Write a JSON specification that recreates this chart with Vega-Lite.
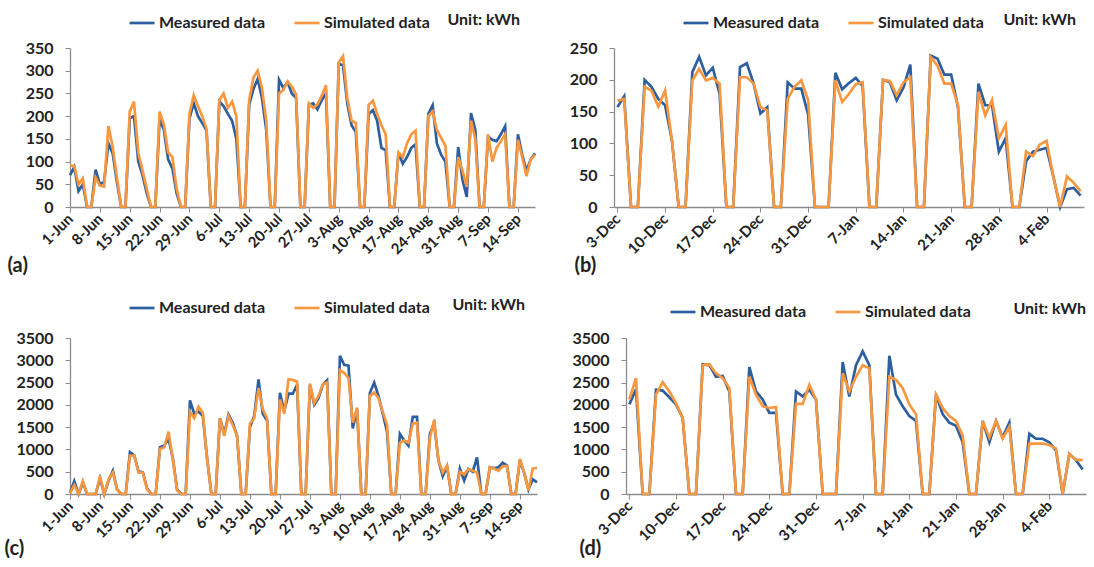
{
  "$schema": "https://vega.github.io/schema/vega-lite/v6.json",
  "background": "white",
  "padding": {"left": 4, "top": 9, "right": 0, "bottom": 0},
  "spacing": 19,
  "resolve": {"scale": {"color": "independent"}, "legend": {"color": "independent"}},
  "config": {
    "font": "Lato",
    "view": {"stroke": null},
    "axis": {"labelFont": "Lato", "labelFontWeight": "bold", "labelColor": "#222", "labelFontSize": 16, "domainColor": "#8c8c8c", "domainWidth": 1.3, "tickColor": "#8c8c8c", "tickSize": 5, "grid": false, "titleFont": "Lato", "titleFontSize": 20, "titleFontWeight": "bold", "titleColor": "#222"},
    "axisY": {"labelPadding": 12, "format": "d"},
    "axisX": {"labelAngle": -45, "labelAlign": "right", "labelBaseline": "middle", "labelFontSize": 15, "labelPadding": 4, "labelOverlap": false, "titleAlign": "left", "titleBaseline": "middle"},
    "legend": {"orient": "none", "direction": "horizontal", "symbolType": "stroke", "symbolStrokeWidth": 3, "symbolSize": 625, "labelFont": "Lato", "labelFontSize": 16, "labelFontWeight": "bold", "labelColor": "#222", "columnPadding": 24, "labelOffset": 3, "padding": 0},
    "title": {"font": "Lato", "fontSize": 16, "fontWeight": "bold", "color": "#222", "anchor": "end", "frame": "group", "orient": "top"},
    "line": {"strokeWidth": 2.7}
  },
  "vconcat": [
    {
      "spacing": 28,
      "resolve": {"scale": {"color": "independent"}, "legend": {"color": "independent"}},
      "hconcat": [
        {
          "width": 465, "height": 159,
          "title": {"text": "Unit: kWh", "dx": -15, "offset": -19},
          "data": {"values": [
            {"date":"2015-06-01","m":70,"s":92},{"date":"2015-06-02","m":88,"s":90},{"date":"2015-06-03","m":35,"s":50},{"date":"2015-06-04","m":50,"s":63},{"date":"2015-06-05","m":0,"s":0},{"date":"2015-06-06","m":0,"s":0},{"date":"2015-06-07","m":82,"s":65},
            {"date":"2015-06-08","m":50,"s":47},{"date":"2015-06-09","m":55,"s":45},{"date":"2015-06-10","m":140,"s":178},{"date":"2015-06-11","m":118,"s":132},{"date":"2015-06-12","m":55,"s":65},{"date":"2015-06-13","m":0,"s":0},{"date":"2015-06-14","m":0,"s":0},
            {"date":"2015-06-15","m":195,"s":210},{"date":"2015-06-16","m":200,"s":232},{"date":"2015-06-17","m":100,"s":120},{"date":"2015-06-18","m":70,"s":80},{"date":"2015-06-19","m":30,"s":40},{"date":"2015-06-20","m":0,"s":0},{"date":"2015-06-21","m":0,"s":0},
            {"date":"2015-06-22","m":193,"s":210},{"date":"2015-06-23","m":170,"s":182},{"date":"2015-06-24","m":105,"s":120},{"date":"2015-06-25","m":85,"s":110},{"date":"2015-06-26","m":30,"s":40},{"date":"2015-06-27","m":0,"s":0},{"date":"2015-06-28","m":0,"s":0},
            {"date":"2015-06-29","m":195,"s":205},{"date":"2015-06-30","m":228,"s":246},{"date":"2015-07-01","m":200,"s":222},{"date":"2015-07-02","m":185,"s":200},{"date":"2015-07-03","m":168,"s":172},{"date":"2015-07-04","m":0,"s":0},{"date":"2015-07-05","m":0,"s":0},
            {"date":"2015-07-06","m":232,"s":235},{"date":"2015-07-07","m":222,"s":250},{"date":"2015-07-08","m":205,"s":218},{"date":"2015-07-09","m":190,"s":232},{"date":"2015-07-10","m":150,"s":200},{"date":"2015-07-11","m":0,"s":0},{"date":"2015-07-12","m":0,"s":0},
            {"date":"2015-07-13","m":225,"s":235},{"date":"2015-07-14","m":260,"s":285},{"date":"2015-07-15","m":282,"s":300},{"date":"2015-07-16","m":240,"s":262},{"date":"2015-07-17","m":170,"s":190},{"date":"2015-07-18","m":0,"s":0},{"date":"2015-07-19","m":0,"s":0},
            {"date":"2015-07-20","m":280,"s":250},{"date":"2015-07-21","m":262,"s":258},{"date":"2015-07-22","m":275,"s":276},{"date":"2015-07-23","m":250,"s":265},{"date":"2015-07-24","m":240,"s":248},{"date":"2015-07-25","m":0,"s":0},{"date":"2015-07-26","m":0,"s":0},
            {"date":"2015-07-27","m":225,"s":228},{"date":"2015-07-28","m":228,"s":218},{"date":"2015-07-29","m":215,"s":226},{"date":"2015-07-30","m":235,"s":245},{"date":"2015-07-31","m":250,"s":268},{"date":"2015-08-01","m":0,"s":0},{"date":"2015-08-02","m":0,"s":0},
            {"date":"2015-08-03","m":315,"s":318},{"date":"2015-08-04","m":312,"s":332},{"date":"2015-08-05","m":228,"s":240},{"date":"2015-08-06","m":180,"s":190},{"date":"2015-08-07","m":165,"s":185},{"date":"2015-08-08","m":0,"s":0},{"date":"2015-08-09","m":0,"s":0},
            {"date":"2015-08-10","m":205,"s":225},{"date":"2015-08-11","m":213,"s":234},{"date":"2015-08-12","m":190,"s":205},{"date":"2015-08-13","m":130,"s":180},{"date":"2015-08-14","m":125,"s":160},{"date":"2015-08-15","m":0,"s":0},{"date":"2015-08-16","m":0,"s":0},
            {"date":"2015-08-17","m":120,"s":120},{"date":"2015-08-18","m":95,"s":110},{"date":"2015-08-19","m":110,"s":140},{"date":"2015-08-20","m":130,"s":160},{"date":"2015-08-21","m":138,"s":168},{"date":"2015-08-22","m":0,"s":0},{"date":"2015-08-23","m":0,"s":0},
            {"date":"2015-08-24","m":205,"s":200},{"date":"2015-08-25","m":224,"s":210},{"date":"2015-08-26","m":140,"s":170},{"date":"2015-08-27","m":115,"s":152},{"date":"2015-08-28","m":100,"s":135},{"date":"2015-08-29","m":0,"s":0},{"date":"2015-08-30","m":0,"s":0},
            {"date":"2015-08-31","m":132,"s":110},{"date":"2015-09-01","m":60,"s":80},{"date":"2015-09-02","m":22,"s":45},{"date":"2015-09-03","m":207,"s":190},{"date":"2015-09-04","m":170,"s":150},{"date":"2015-09-05","m":0,"s":0},{"date":"2015-09-06","m":0,"s":0},
            {"date":"2015-09-07","m":155,"s":160},{"date":"2015-09-08","m":148,"s":100},{"date":"2015-09-09","m":145,"s":130},{"date":"2015-09-10","m":160,"s":145},{"date":"2015-09-11","m":178,"s":160},{"date":"2015-09-12","m":0,"s":0},{"date":"2015-09-13","m":0,"s":0},
            {"date":"2015-09-14","m":160,"s":148},{"date":"2015-09-15","m":115,"s":110},{"date":"2015-09-16","m":80,"s":68},{"date":"2015-09-17","m":105,"s":105},{"date":"2015-09-18","m":118,"s":115}
          ]},
          "transform": [{"fold": ["m", "s"], "as": ["series", "kWh"]}],
          "mark": {"type": "line"},
          "encoding": {
            "x": {"field": "date", "type": "temporal",
              "scale": {"type": "utc", "domain": [{"year": 2015, "month": 6, "date": 1, "utc": true}, {"year": 2015, "month": 9, "date": 18, "utc": true}]},
              "axis": {"values": [{"year":2015,"month":6,"date":1,"utc":true},{"year":2015,"month":6,"date":8,"utc":true},{"year":2015,"month":6,"date":15,"utc":true},{"year":2015,"month":6,"date":22,"utc":true},{"year":2015,"month":6,"date":29,"utc":true},{"year":2015,"month":7,"date":6,"utc":true},{"year":2015,"month":7,"date":13,"utc":true},{"year":2015,"month":7,"date":20,"utc":true},{"year":2015,"month":7,"date":27,"utc":true},{"year":2015,"month":8,"date":3,"utc":true},{"year":2015,"month":8,"date":10,"utc":true},{"year":2015,"month":8,"date":17,"utc":true},{"year":2015,"month":8,"date":24,"utc":true},{"year":2015,"month":8,"date":31,"utc":true},{"year":2015,"month":9,"date":7,"utc":true},{"year":2015,"month":9,"date":14,"utc":true}],
                "labelExpr": "utcFormat(datum.value, '%-d-%b')", "title": "(a)", "titleX": -63, "titleY": 58}},
            "y": {"field": "kWh", "type": "quantitative", "scale": {"domain": [0, 350], "nice": false}, "axis": {"values": [0, 50, 100, 150, 200, 250, 300, 350], "title": null}},
            "color": {"field": "series", "type": "nominal", "scale": {"domain": ["m", "s"], "range": ["#2d5f9f", "#f7973f"]},
              "legend": {"orient": "none", "legendX": 58, "legendY": -39, "title": null, "labelExpr": "datum.label == 'm' ? 'Measured data' : 'Simulated data'"}}
          }
        },
        {
          "width": 470, "height": 159,
          "title": {"text": "Unit: kWh", "dx": -8, "offset": -19},
          "data": {"values": [
            {"date":"2015-12-03","m":157,"s":167},{"date":"2015-12-04","m":174,"s":170},{"date":"2015-12-05","m":0,"s":0},{"date":"2015-12-06","m":0,"s":0},
            {"date":"2015-12-07","m":200,"s":189},{"date":"2015-12-08","m":189,"s":183},{"date":"2015-12-09","m":170,"s":158},{"date":"2015-12-10","m":160,"s":183},{"date":"2015-12-11","m":105,"s":105},{"date":"2015-12-12","m":0,"s":0},{"date":"2015-12-13","m":0,"s":0},
            {"date":"2015-12-14","m":212,"s":199},{"date":"2015-12-15","m":236,"s":217},{"date":"2015-12-16","m":207,"s":199},{"date":"2015-12-17","m":219,"s":203},{"date":"2015-12-18","m":178,"s":194},{"date":"2015-12-19","m":0,"s":0},{"date":"2015-12-20","m":0,"s":0},
            {"date":"2015-12-21","m":220,"s":204},{"date":"2015-12-22","m":226,"s":204},{"date":"2015-12-23","m":194,"s":194},{"date":"2015-12-24","m":147,"s":157},{"date":"2015-12-25","m":157,"s":152},{"date":"2015-12-26","m":0,"s":0},{"date":"2015-12-27","m":0,"s":0},
            {"date":"2015-12-28","m":196,"s":170},{"date":"2015-12-29","m":186,"s":189},{"date":"2015-12-30","m":186,"s":199},{"date":"2015-12-31","m":145,"s":168},{"date":"2016-01-01","m":0,"s":0},{"date":"2016-01-02","m":0,"s":0},{"date":"2016-01-03","m":0,"s":0},
            {"date":"2016-01-04","m":211,"s":199},{"date":"2016-01-05","m":185,"s":165},{"date":"2016-01-06","m":195,"s":178},{"date":"2016-01-07","m":203,"s":193},{"date":"2016-01-08","m":190,"s":196},{"date":"2016-01-09","m":0,"s":0},{"date":"2016-01-10","m":0,"s":0},
            {"date":"2016-01-11","m":200,"s":200},{"date":"2016-01-12","m":196,"s":198},{"date":"2016-01-13","m":168,"s":176},{"date":"2016-01-14","m":188,"s":196},{"date":"2016-01-15","m":224,"s":204},{"date":"2016-01-16","m":0,"s":0},{"date":"2016-01-17","m":0,"s":0},
            {"date":"2016-01-18","m":238,"s":236},{"date":"2016-01-19","m":233,"s":222},{"date":"2016-01-20","m":208,"s":194},{"date":"2016-01-21","m":208,"s":194},{"date":"2016-01-22","m":157,"s":160},{"date":"2016-01-23","m":0,"s":0},{"date":"2016-01-24","m":0,"s":0},
            {"date":"2016-01-25","m":194,"s":181},{"date":"2016-01-26","m":160,"s":144},{"date":"2016-01-27","m":160,"s":168},{"date":"2016-01-28","m":87,"s":108},{"date":"2016-01-29","m":108,"s":129},{"date":"2016-01-30","m":0,"s":0},{"date":"2016-01-31","m":0,"s":0},
            {"date":"2016-02-01","m":72,"s":87},{"date":"2016-02-02","m":87,"s":80},{"date":"2016-02-03","m":90,"s":98},{"date":"2016-02-04","m":93,"s":104},{"date":"2016-02-05","m":48,"s":48},{"date":"2016-02-06","m":0,"s":0},{"date":"2016-02-07","m":28,"s":48},
            {"date":"2016-02-08","m":30,"s":38},{"date":"2016-02-09","m":18,"s":25}
          ]},
          "transform": [{"fold": ["m", "s"], "as": ["series", "kWh"]}],
          "mark": {"type": "line"},
          "encoding": {
            "x": {"field": "date", "type": "temporal",
              "scale": {"type": "utc", "domain": [{"year": 2015, "month": 12, "date": 2, "hours": 12, "utc": true}, {"year": 2016, "month": 2, "date": 9, "hours": 12, "utc": true}]},
              "axis": {"values": [{"year":2015,"month":12,"date":3,"utc":true},{"year":2015,"month":12,"date":10,"utc":true},{"year":2015,"month":12,"date":17,"utc":true},{"year":2015,"month":12,"date":24,"utc":true},{"year":2015,"month":12,"date":31,"utc":true},{"year":2016,"month":1,"date":7,"utc":true},{"year":2016,"month":1,"date":14,"utc":true},{"year":2016,"month":1,"date":21,"utc":true},{"year":2016,"month":1,"date":28,"utc":true},{"year":2016,"month":2,"date":4,"utc":true}],
                "labelExpr": "utcFormat(datum.value, '%-d-%b')", "title": "(b)", "titleX": -40, "titleY": 58}},
            "y": {"field": "kWh", "type": "quantitative", "scale": {"domain": [0, 250], "nice": false}, "axis": {"values": [0, 50, 100, 150, 200, 250], "title": null}},
            "color": {"field": "series", "type": "nominal", "scale": {"domain": ["m", "s"], "range": ["#2d5f9f", "#f7973f"]},
              "legend": {"orient": "none", "legendX": 68, "legendY": -39, "title": null, "labelExpr": "datum.label == 'm' ? 'Measured data' : 'Simulated data'"}}
          }
        }
      ]
    },
    {
      "spacing": 28,
      "resolve": {"scale": {"color": "independent"}, "legend": {"color": "independent"}},
      "hconcat": [
        {
          "width": 467, "height": 156,
          "title": {"text": "Unit: kWh", "dx": -12, "offset": -19},
          "data": {"values": [
            {"date":"2015-06-01","m":30,"s":20},{"date":"2015-06-02","m":290,"s":200},{"date":"2015-06-03","m":0,"s":0},{"date":"2015-06-04","m":250,"s":290},{"date":"2015-06-05","m":0,"s":0},{"date":"2015-06-06","m":0,"s":0},{"date":"2015-06-07","m":0,"s":0},
            {"date":"2015-06-08","m":350,"s":400},{"date":"2015-06-09","m":0,"s":0},{"date":"2015-06-10","m":300,"s":330},{"date":"2015-06-11","m":520,"s":480},{"date":"2015-06-12","m":100,"s":100},{"date":"2015-06-13","m":0,"s":0},{"date":"2015-06-14","m":0,"s":0},
            {"date":"2015-06-15","m":940,"s":860},{"date":"2015-06-16","m":870,"s":860},{"date":"2015-06-17","m":500,"s":480},{"date":"2015-06-18","m":490,"s":480},{"date":"2015-06-19","m":120,"s":100},{"date":"2015-06-20","m":0,"s":0},{"date":"2015-06-21","m":0,"s":0},
            {"date":"2015-06-22","m":1050,"s":1010},{"date":"2015-06-23","m":1090,"s":1050},{"date":"2015-06-24","m":1240,"s":1400},{"date":"2015-06-25","m":800,"s":780},{"date":"2015-06-26","m":100,"s":80},{"date":"2015-06-27","m":0,"s":0},{"date":"2015-06-28","m":0,"s":0},
            {"date":"2015-06-29","m":2100,"s":1850},{"date":"2015-06-30","m":1800,"s":1700},{"date":"2015-07-01","m":1850,"s":1960},{"date":"2015-07-02","m":1750,"s":1820},{"date":"2015-07-03","m":800,"s":780},{"date":"2015-07-04","m":0,"s":0},{"date":"2015-07-05","m":0,"s":0},
            {"date":"2015-07-06","m":1700,"s":1700},{"date":"2015-07-07","m":1350,"s":1300},{"date":"2015-07-08","m":1780,"s":1750},{"date":"2015-07-09","m":1600,"s":1550},{"date":"2015-07-10","m":1300,"s":1300},{"date":"2015-07-11","m":0,"s":0},{"date":"2015-07-12","m":0,"s":0},
            {"date":"2015-07-13","m":1500,"s":1580},{"date":"2015-07-14","m":1750,"s":1700},{"date":"2015-07-15","m":2570,"s":2380},{"date":"2015-07-16","m":1800,"s":1900},{"date":"2015-07-17","m":1650,"s":1700},{"date":"2015-07-18","m":0,"s":0},{"date":"2015-07-19","m":0,"s":0},
            {"date":"2015-07-20","m":2270,"s":2120},{"date":"2015-07-21","m":1850,"s":1800},{"date":"2015-07-22","m":2250,"s":2570},{"date":"2015-07-23","m":2250,"s":2560},{"date":"2015-07-24","m":2450,"s":2520},{"date":"2015-07-25","m":0,"s":0},{"date":"2015-07-26","m":0,"s":0},
            {"date":"2015-07-27","m":2450,"s":2480},{"date":"2015-07-28","m":2000,"s":2040},{"date":"2015-07-29","m":2150,"s":2200},{"date":"2015-07-30","m":2450,"s":2460},{"date":"2015-07-31","m":2550,"s":2500},{"date":"2015-08-01","m":0,"s":0},{"date":"2015-08-02","m":0,"s":0},
            {"date":"2015-08-03","m":3100,"s":2780},{"date":"2015-08-04","m":2900,"s":2720},{"date":"2015-08-05","m":2880,"s":2600},{"date":"2015-08-06","m":1470,"s":1600},{"date":"2015-08-07","m":1900,"s":1940},{"date":"2015-08-08","m":0,"s":0},{"date":"2015-08-09","m":0,"s":0},
            {"date":"2015-08-10","m":2270,"s":2200},{"date":"2015-08-11","m":2500,"s":2280},{"date":"2015-08-12","m":2200,"s":2150},{"date":"2015-08-13","m":1800,"s":1850},{"date":"2015-08-14","m":1400,"s":1550},{"date":"2015-08-15","m":0,"s":0},{"date":"2015-08-16","m":0,"s":0},
            {"date":"2015-08-17","m":1350,"s":1150},{"date":"2015-08-18","m":1200,"s":1200},{"date":"2015-08-19","m":1080,"s":1150},{"date":"2015-08-20","m":1730,"s":1580},{"date":"2015-08-21","m":1730,"s":1600},{"date":"2015-08-22","m":0,"s":0},{"date":"2015-08-23","m":0,"s":0},
            {"date":"2015-08-24","m":1350,"s":1250},{"date":"2015-08-25","m":1580,"s":1660},{"date":"2015-08-26","m":750,"s":750},{"date":"2015-08-27","m":400,"s":480},{"date":"2015-08-28","m":620,"s":640},{"date":"2015-08-29","m":0,"s":0},{"date":"2015-08-30","m":0,"s":0},
            {"date":"2015-08-31","m":570,"s":500},{"date":"2015-09-01","m":300,"s":440},{"date":"2015-09-02","m":560,"s":560},{"date":"2015-09-03","m":500,"s":520},{"date":"2015-09-04","m":820,"s":480},{"date":"2015-09-05","m":0,"s":0},{"date":"2015-09-06","m":0,"s":0},
            {"date":"2015-09-07","m":600,"s":600},{"date":"2015-09-08","m":580,"s":570},{"date":"2015-09-09","m":600,"s":520},{"date":"2015-09-10","m":700,"s":620},{"date":"2015-09-11","m":640,"s":630},{"date":"2015-09-12","m":0,"s":0},{"date":"2015-09-13","m":0,"s":0},
            {"date":"2015-09-14","m":750,"s":790},{"date":"2015-09-15","m":480,"s":480},{"date":"2015-09-16","m":100,"s":80},{"date":"2015-09-17","m":330,"s":570},{"date":"2015-09-18","m":260,"s":590}
          ]},
          "transform": [{"fold": ["m", "s"], "as": ["series", "kWh"]}],
          "mark": {"type": "line"},
          "encoding": {
            "x": {"field": "date", "type": "temporal",
              "scale": {"type": "utc", "domain": [{"year": 2015, "month": 6, "date": 1, "utc": true}, {"year": 2015, "month": 9, "date": 18, "utc": true}]},
              "axis": {"values": [{"year":2015,"month":6,"date":1,"utc":true},{"year":2015,"month":6,"date":8,"utc":true},{"year":2015,"month":6,"date":15,"utc":true},{"year":2015,"month":6,"date":22,"utc":true},{"year":2015,"month":6,"date":29,"utc":true},{"year":2015,"month":7,"date":6,"utc":true},{"year":2015,"month":7,"date":13,"utc":true},{"year":2015,"month":7,"date":20,"utc":true},{"year":2015,"month":7,"date":27,"utc":true},{"year":2015,"month":8,"date":3,"utc":true},{"year":2015,"month":8,"date":10,"utc":true},{"year":2015,"month":8,"date":17,"utc":true},{"year":2015,"month":8,"date":24,"utc":true},{"year":2015,"month":8,"date":31,"utc":true},{"year":2015,"month":9,"date":7,"utc":true},{"year":2015,"month":9,"date":14,"utc":true}],
                "labelExpr": "utcFormat(datum.value, '%-d-%b')", "title": "(c)", "titleX": -66, "titleY": 54}},
            "y": {"field": "kWh", "type": "quantitative", "scale": {"domain": [0, 3500], "nice": false}, "axis": {"values": [0, 500, 1000, 1500, 2000, 2500, 3000, 3500], "title": null}},
            "color": {"field": "series", "type": "nominal", "scale": {"domain": ["m", "s"], "range": ["#2d5f9f", "#f7973f"]},
              "legend": {"orient": "none", "legendX": 58, "legendY": -44, "title": null, "labelExpr": "datum.label == 'm' ? 'Measured data' : 'Simulated data'"}}
          }
        },
        {
          "width": 460, "height": 156,
          "title": {"text": "Unit: kWh", "dx": 0, "offset": -19},
          "data": {"values": [
            {"date":"2015-12-03","m":2010,"s":2120},{"date":"2015-12-04","m":2350,"s":2600},{"date":"2015-12-05","m":0,"s":0},{"date":"2015-12-06","m":0,"s":0},
            {"date":"2015-12-07","m":2340,"s":2230},{"date":"2015-12-08","m":2320,"s":2510},{"date":"2015-12-09","m":2170,"s":2300},{"date":"2015-12-10","m":2010,"s":2040},{"date":"2015-12-11","m":1710,"s":1710},{"date":"2015-12-12","m":0,"s":0},{"date":"2015-12-13","m":0,"s":0},
            {"date":"2015-12-14","m":2910,"s":2890},{"date":"2015-12-15","m":2890,"s":2910},{"date":"2015-12-16","m":2630,"s":2710},{"date":"2015-12-17","m":2650,"s":2600},{"date":"2015-12-18","m":2300,"s":2380},{"date":"2015-12-19","m":0,"s":0},{"date":"2015-12-20","m":0,"s":0},
            {"date":"2015-12-21","m":2850,"s":2630},{"date":"2015-12-22","m":2300,"s":2230},{"date":"2015-12-23","m":2120,"s":1970},{"date":"2015-12-24","m":1820,"s":1930},{"date":"2015-12-25","m":1820,"s":1950},{"date":"2015-12-26","m":0,"s":0},{"date":"2015-12-27","m":0,"s":0},
            {"date":"2015-12-28","m":2300,"s":2020},{"date":"2015-12-29","m":2190,"s":2020},{"date":"2015-12-30","m":2340,"s":2450},{"date":"2015-12-31","m":2120,"s":2120},{"date":"2016-01-01","m":0,"s":0},{"date":"2016-01-02","m":0,"s":0},{"date":"2016-01-03","m":0,"s":0},
            {"date":"2016-01-04","m":2960,"s":2710},{"date":"2016-01-05","m":2190,"s":2300},{"date":"2016-01-06","m":2890,"s":2630},{"date":"2016-01-07","m":3200,"s":2890},{"date":"2016-01-08","m":2890,"s":2820},{"date":"2016-01-09","m":0,"s":0},{"date":"2016-01-10","m":0,"s":0},
            {"date":"2016-01-11","m":3100,"s":2630},{"date":"2016-01-12","m":2230,"s":2560},{"date":"2016-01-13","m":1970,"s":2380},{"date":"2016-01-14","m":1750,"s":2010},{"date":"2016-01-15","m":1640,"s":1790},{"date":"2016-01-16","m":0,"s":0},{"date":"2016-01-17","m":0,"s":0},
            {"date":"2016-01-18","m":2230,"s":2230},{"date":"2016-01-19","m":1790,"s":1930},{"date":"2016-01-20","m":1600,"s":1750},{"date":"2016-01-21","m":1530,"s":1640},{"date":"2016-01-22","m":1160,"s":1310},{"date":"2016-01-23","m":0,"s":0},{"date":"2016-01-24","m":0,"s":0},
            {"date":"2016-01-25","m":1640,"s":1640},{"date":"2016-01-26","m":1160,"s":1270},{"date":"2016-01-27","m":1640,"s":1640},{"date":"2016-01-28","m":1270,"s":1240},{"date":"2016-01-29","m":1600,"s":1510},{"date":"2016-01-30","m":0,"s":0},{"date":"2016-01-31","m":0,"s":0},
            {"date":"2016-02-01","m":1350,"s":1130},{"date":"2016-02-02","m":1240,"s":1130},{"date":"2016-02-03","m":1240,"s":1130},{"date":"2016-02-04","m":1160,"s":1100},{"date":"2016-02-05","m":980,"s":1020},{"date":"2016-02-06","m":0,"s":0},{"date":"2016-02-07","m":900,"s":900},
            {"date":"2016-02-08","m":760,"s":770},{"date":"2016-02-09","m":550,"s":760}
          ]},
          "transform": [{"fold": ["m", "s"], "as": ["series", "kWh"]}],
          "mark": {"type": "line"},
          "encoding": {
            "x": {"field": "date", "type": "temporal",
              "scale": {"type": "utc", "domain": [{"year": 2015, "month": 12, "date": 2, "hours": 12, "utc": true}, {"year": 2016, "month": 2, "date": 9, "hours": 12, "utc": true}]},
              "axis": {"values": [{"year":2015,"month":12,"date":3,"utc":true},{"year":2015,"month":12,"date":10,"utc":true},{"year":2015,"month":12,"date":17,"utc":true},{"year":2015,"month":12,"date":24,"utc":true},{"year":2015,"month":12,"date":31,"utc":true},{"year":2016,"month":1,"date":7,"utc":true},{"year":2016,"month":1,"date":14,"utc":true},{"year":2016,"month":1,"date":21,"utc":true},{"year":2016,"month":1,"date":28,"utc":true},{"year":2016,"month":2,"date":4,"utc":true}],
                "labelExpr": "utcFormat(datum.value, '%-d-%b')", "title": "(d)", "titleX": -47, "titleY": 54}},
            "y": {"field": "kWh", "type": "quantitative", "scale": {"domain": [0, 3500], "nice": false}, "axis": {"values": [0, 500, 1000, 1500, 2000, 2500, 3000, 3500], "title": null}},
            "color": {"field": "series", "type": "nominal", "scale": {"domain": ["m", "s"], "range": ["#2d5f9f", "#f7973f"]},
              "legend": {"orient": "none", "legendX": 43, "legendY": -40, "title": null, "labelExpr": "datum.label == 'm' ? 'Measured data' : 'Simulated data'"}}
          }
        }
      ]
    }
  ]
}
